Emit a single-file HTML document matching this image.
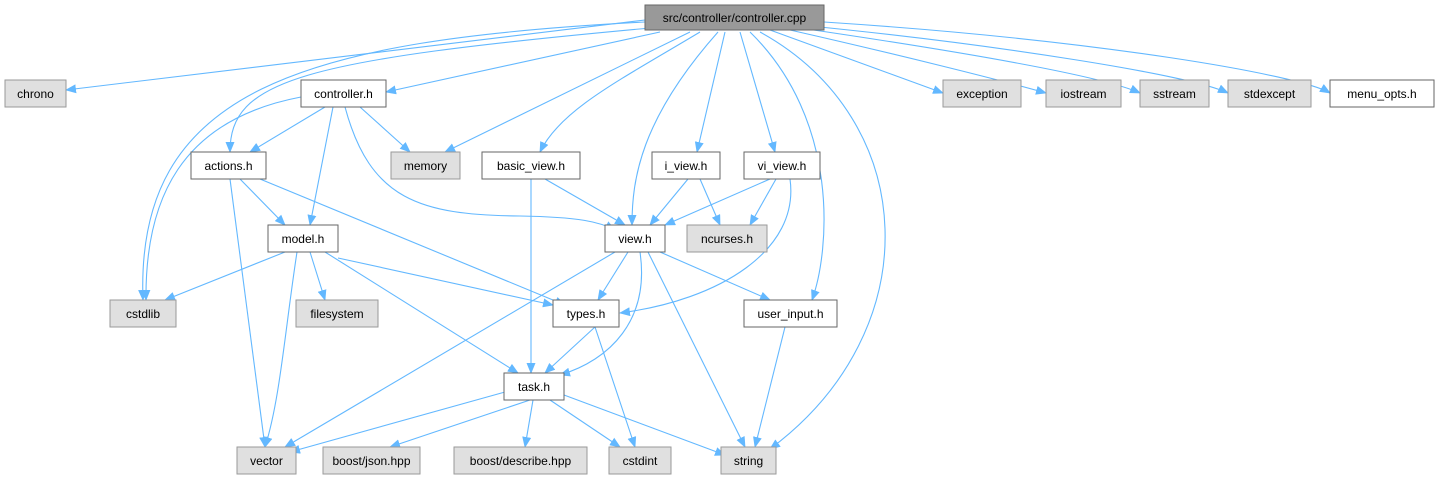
<!DOCTYPE html>
<html><head><meta charset="utf-8"><style>
body{margin:0;background:#fff;width:1438px;height:478px;overflow:hidden}
svg text{font-family:"Liberation Sans",sans-serif;font-size:12px;text-anchor:middle}
</style></head><body>
<svg width="1438" height="478" xmlns="http://www.w3.org/2000/svg">
<defs><marker id="a" markerWidth="11" markerHeight="9" refX="10" refY="4.5" orient="auto" markerUnits="userSpaceOnUse"><path d="M0,0L11,4.5L0,9z" fill="#63b8ff"/></marker></defs>
<g fill="none" stroke="#63b8ff" stroke-width="1.1" marker-end="url(#a)">
<path d="M645,20 L66,90"/>
<path d="M645,22 C300,40 135,90 143,300"/>
<path d="M650,28 C300,60 230,80 230,152"/>
<path d="M660,32 L386,92"/>
<path d="M690,32 L445,152"/>
<path d="M700,32 C620,80 560,110 540,152"/>
<path d="M718,32 C640,120 632,180 632,225"/>
<path d="M725,32 L697,152"/>
<path d="M740,32 L775,152"/>
<path d="M750,32 C840,120 830,250 812,300"/>
<path d="M760,32 C920,120 930,330 770,449"/>
<path d="M770,30 L943,93"/>
<path d="M790,30 C900,55 1000,80 1046,93"/>
<path d="M800,28 C950,50 1100,75 1140,93"/>
<path d="M810,26 C1000,45 1190,75 1228,93"/>
<path d="M824,22 C1100,40 1300,75 1330,93"/>
<path d="M301,97 C180,120 145,200 146,300"/>
<path d="M325,107 L250,152"/>
<path d="M360,107 L410,152"/>
<path d="M333,107 L310,225"/>
<path d="M345,107 C370,200 420,215 520,216 C580,217 600,222 615,230"/>
<path d="M240,179 L285,225"/>
<path d="M260,179 L565,305"/>
<path d="M230,179 L265,447"/>
<path d="M545,179 L625,225"/>
<path d="M531,179 L531,373"/>
<path d="M688,179 L650,225"/>
<path d="M700,179 L720,225"/>
<path d="M770,179 L665,225"/>
<path d="M776,179 L750,225"/>
<path d="M790,179 C800,250 720,300 620,313"/>
<path d="M285,252 L165,300"/>
<path d="M310,252 L325,300"/>
<path d="M338,258 L553,305"/>
<path d="M325,252 L518,373"/>
<path d="M297,252 C285,330 280,400 265,447"/>
<path d="M615,252 L285,447"/>
<path d="M628,252 L598,300"/>
<path d="M640,252 C650,320 610,360 560,375"/>
<path d="M660,252 L770,300"/>
<path d="M648,252 L745,447"/>
<path d="M595,327 L545,373"/>
<path d="M595,327 L635,447"/>
<path d="M785,327 L755,447"/>
<path d="M505,392 L290,452"/>
<path d="M530,400 L390,447"/>
<path d="M533,400 L525,447"/>
<path d="M550,400 L620,447"/>
<path d="M564,395 L725,455"/>
</g>
<g stroke-width="1">
<rect x="645" y="5" width="179" height="25" fill="#999" stroke="#666"/>
<g fill="#e0e0e0" stroke="#999">
<rect x="5" y="80" width="61" height="27"/><rect x="943" y="80" width="78" height="27"/>
<rect x="1046" y="80" width="75" height="27"/><rect x="1140" y="80" width="69" height="27"/>
<rect x="1228" y="80" width="83" height="27"/><rect x="391" y="152" width="69" height="27"/>
<rect x="687" y="225" width="80" height="27"/><rect x="110" y="300" width="66" height="27"/>
<rect x="296" y="300" width="82" height="27"/><rect x="237" y="447" width="59" height="27"/>
<rect x="323" y="447" width="97" height="27"/><rect x="454" y="447" width="133" height="27"/>
<rect x="609" y="447" width="62" height="27"/><rect x="721" y="447" width="55" height="27"/>
</g>
<g fill="#fff" stroke="#666">
<rect x="301" y="80" width="85" height="27"/><rect x="1330" y="80" width="104" height="27"/>
<rect x="191" y="152" width="75" height="27"/><rect x="482" y="152" width="98" height="27"/>
<rect x="652" y="152" width="68" height="27"/><rect x="744" y="152" width="76" height="27"/>
<rect x="268" y="225" width="70" height="27"/><rect x="605" y="225" width="60" height="27"/>
<rect x="553" y="300" width="66" height="27"/><rect x="744" y="300" width="93" height="27"/>
<rect x="504" y="373" width="60" height="27"/>
</g>
</g>
<g fill="#000">
<text x="734.5" y="22">src/controller/controller.cpp</text>
<text x="35.5" y="98">chrono</text><text x="343.5" y="98">controller.h</text>
<text x="982" y="98">exception</text><text x="1083.5" y="98">iostream</text>
<text x="1174.5" y="98">sstream</text><text x="1269.5" y="98">stdexcept</text>
<text x="1382" y="98">menu_opts.h</text>
<text x="228.5" y="170">actions.h</text><text x="425.5" y="170">memory</text>
<text x="531" y="170">basic_view.h</text><text x="686" y="170">i_view.h</text>
<text x="782" y="170">vi_view.h</text>
<text x="303" y="243">model.h</text><text x="635" y="243">view.h</text><text x="727" y="243">ncurses.h</text>
<text x="143" y="318">cstdlib</text><text x="337" y="318">filesystem</text>
<text x="586" y="318">types.h</text><text x="790.5" y="318">user_input.h</text>
<text x="534" y="391">task.h</text>
<text x="266.5" y="465">vector</text><text x="371.5" y="465">boost/json.hpp</text>
<text x="520.5" y="465">boost/describe.hpp</text><text x="640" y="465">cstdint</text>
<text x="748.5" y="465">string</text>
</g>
</svg>
</body></html>
